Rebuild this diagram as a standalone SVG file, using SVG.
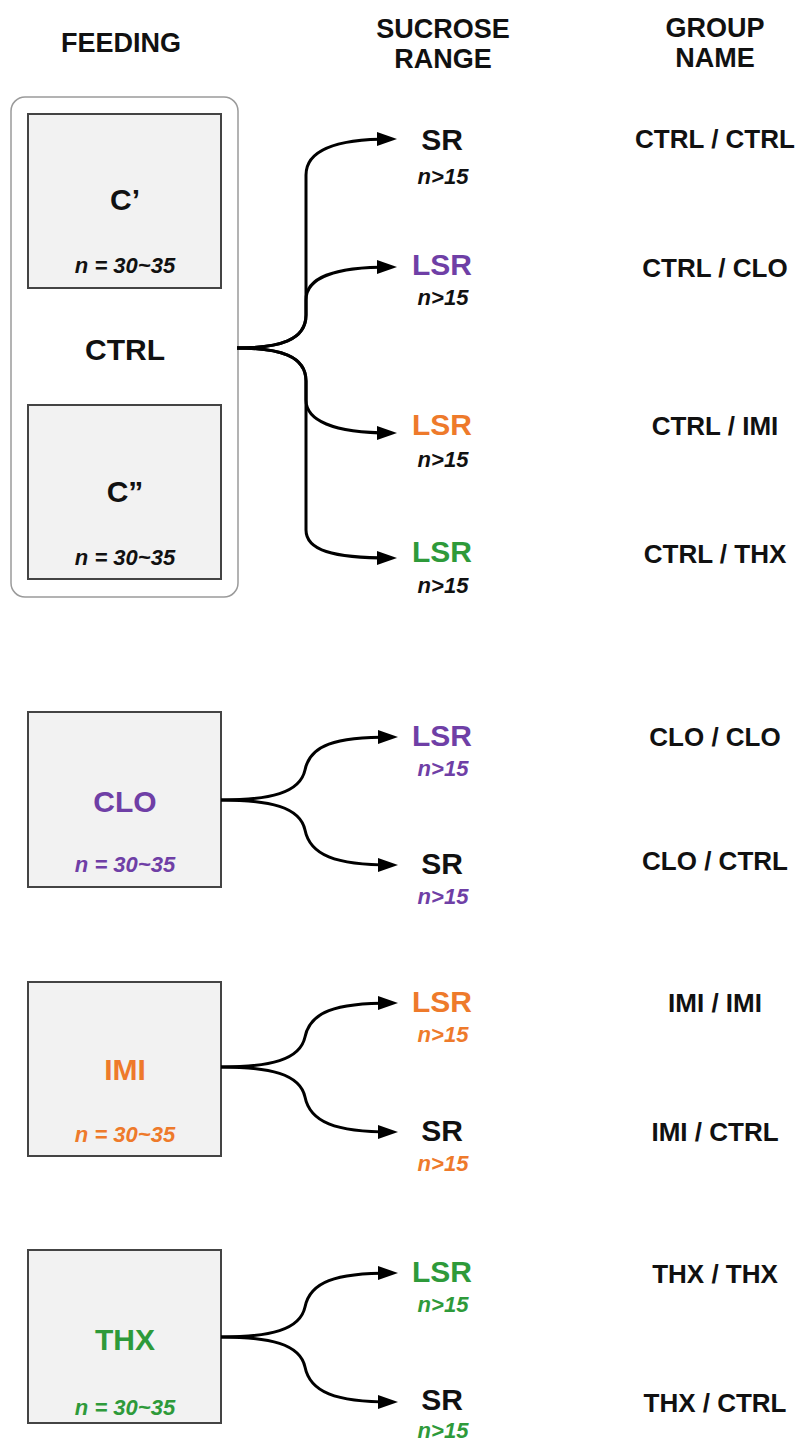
<svg xmlns="http://www.w3.org/2000/svg" width="798" height="1443" viewBox="0 0 798 1443">
<style>
text{font-family:"Liberation Sans",Arial,sans-serif;font-weight:bold;text-anchor:middle;fill:#111}
.hd{font-size:27px}
.big{font-size:30px}
.grp{font-size:26px}
.n{font-size:22px;font-style:italic}
.pu{fill:#6f3fa6}
.or{fill:#ee7a2b}
.gr{fill:#2e9a3a}
.box{fill:#f2f2f2;stroke:#444;stroke-width:2}
.outer{fill:#fff;stroke:#9a9a9a;stroke-width:1.5}
.con path{fill:none;stroke:#000;stroke-width:3;marker-end:url(#ah)}
</style>
<defs>
<marker id="ah" markerUnits="userSpaceOnUse" markerWidth="22" markerHeight="16" refX="13" refY="7" orient="auto">
<path d="M0,0 L20,7 L0,14 z" fill="#000"/>
</marker>
</defs>
<rect width="798" height="1443" fill="#fff"/>
<g id="headers">
<text class="hd" x="121" y="52">FEEDING</text>
<text class="hd" x="443" y="38">SUCROSE</text>
<text class="hd" x="443" y="68">RANGE</text>
<text class="hd" x="715" y="37">GROUP</text>
<text class="hd" x="715" y="67">NAME</text>
</g>
<g id="ctrl">
<rect class="outer" x="11" y="97" width="227" height="500" rx="14"/>
<text class="big" x="125" y="360">CTRL</text>
</g>
<g id="c1">
<rect class="box" x="28" y="114" width="193" height="174"/>
<text class="big" x="125" y="210">C’</text>
<text class="n" x="125" y="273">n = 30~35</text>
</g>
<g id="c2">
<rect class="box" x="28" y="405" width="193" height="174"/>
<text class="big" x="125" y="502">C”</text>
<text class="n" x="125" y="565">n = 30~35</text>
</g>
<g id="clo">
<rect class="box" x="28" y="712" width="193" height="175"/>
<text class="big pu" x="125" y="812">CLO</text>
<text class="n pu" x="125" y="872">n = 30~35</text>
</g>
<g id="imi">
<rect class="box" x="28" y="982" width="193" height="174"/>
<text class="big or" x="125" y="1080">IMI</text>
<text class="n or" x="125" y="1142">n = 30~35</text>
</g>
<g id="thx">
<rect class="box" x="28" y="1250" width="193" height="173"/>
<text class="big gr" x="125" y="1350">THX</text>
<text class="n gr" x="125" y="1415">n = 30~35</text>
</g>
<g class="con" id="connectors">
<path d="M237,348 C280,348 306,340 306,315 L306,175 C306,150 335,139 390,139"/>
<path d="M237,348 C280,348 306,340 306,315 L306,300 C306,278 332,267 390,267"/>
<path d="M237,348 C280,348 306,356 306,381 L306,400 C306,420 332,433 390,433"/>
<path d="M237,348 C280,348 306,356 306,381 L306,530 C306,550 332,558 390,558"/>
<path d="M221,800 C270,800 300,793 305,770 C310,745 335,737 391,737"/>
<path d="M221,800 C270,800 300,807 305,830 C310,855 335,865 391,865"/>
<path d="M221,1067 C270,1067 300,1060 305,1037 C310,1012 335,1003 391,1003"/>
<path d="M221,1067 C270,1067 300,1074 305,1097 C310,1122 335,1132 391,1132"/>
<path d="M221,1337 C270,1337 300,1330 305,1307 C310,1282 335,1273 391,1273"/>
<path d="M221,1337 C270,1337 300,1344 305,1367 C310,1392 335,1402 391,1402"/>
</g>
<g id="sr1"><text class="big" x="442" y="150">SR</text><text class="n" x="443" y="184">n&gt;15</text></g>
<g id="lsr-clo1"><text class="big pu" x="442" y="275">LSR</text><text class="n" x="443" y="305">n&gt;15</text></g>
<g id="lsr-imi1"><text class="big or" x="442" y="435">LSR</text><text class="n" x="443" y="467">n&gt;15</text></g>
<g id="lsr-thx1"><text class="big gr" x="442" y="562">LSR</text><text class="n" x="443" y="593">n&gt;15</text></g>
<g id="lsr-clo2"><text class="big pu" x="442" y="746">LSR</text><text class="n pu" x="443" y="776">n&gt;15</text></g>
<g id="sr-clo"><text class="big" x="442" y="874">SR</text><text class="n pu" x="443" y="904">n&gt;15</text></g>
<g id="lsr-imi2"><text class="big or" x="442" y="1012">LSR</text><text class="n or" x="443" y="1042">n&gt;15</text></g>
<g id="sr-imi"><text class="big" x="442" y="1141">SR</text><text class="n or" x="443" y="1171">n&gt;15</text></g>
<g id="lsr-thx2"><text class="big gr" x="442" y="1282">LSR</text><text class="n gr" x="443" y="1312">n&gt;15</text></g>
<g id="sr-thx"><text class="big" x="442" y="1410">SR</text><text class="n gr" x="443" y="1438">n&gt;15</text></g>
<g id="groups">
<text class="grp" x="715" y="148">CTRL / CTRL</text>
<text class="grp" x="715" y="277">CTRL / CLO</text>
<text class="grp" x="715" y="435">CTRL / IMI</text>
<text class="grp" x="715" y="563">CTRL / THX</text>
<text class="grp" x="715" y="746">CLO / CLO</text>
<text class="grp" x="715" y="870">CLO / CTRL</text>
<text class="grp" x="715" y="1012">IMI / IMI</text>
<text class="grp" x="715" y="1141">IMI / CTRL</text>
<text class="grp" x="715" y="1283">THX / THX</text>
<text class="grp" x="715" y="1412">THX / CTRL</text>
</g>
</svg>
